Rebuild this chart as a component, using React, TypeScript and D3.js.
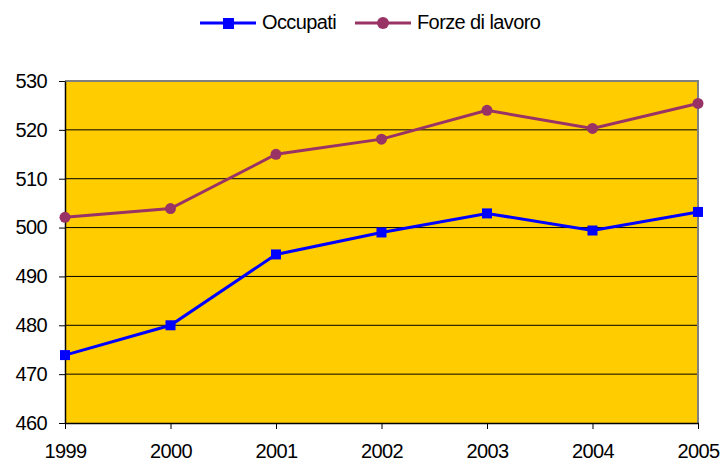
import React, { useRef, useEffect } from 'react';
import * as d3 from 'd3';

const years = ['1999', '2000', '2001', '2002', '2003', '2004', '2005'];
const occupati = [473.9, 480.0, 494.5, 499.0, 502.9, 499.4, 503.2];
const forzeLavoro = [502.1, 503.9, 515.0, 518.1, 524.0, 520.3, 525.4];
const yTicks = [460, 470, 480, 490, 500, 510, 520, 530];

const W = 720;
const H = 462;
const FONT = '"Liberation Sans", Arial, sans-serif';

const App: React.FC = () => {
    const ref = useRef<SVGSVGElement>(null);

    useEffect(() => {
        if (!ref.current) return;
        const svg = d3.select(ref.current);
        svg.selectAll('*').remove();

        const m = { left: 65, right: 698, top: 81, bottom: 423 };

        const x = d3.scalePoint<string>().domain(years).range([m.left, m.right]);
        const y = d3.scaleLinear().domain([460, 530]).range([m.bottom, m.top]);

        // plot background
        svg.append('rect')
            .attr('x', m.left).attr('y', m.top)
            .attr('width', m.right - m.left).attr('height', m.bottom - m.top)
            .attr('fill', '#FFCC00');

        // gridlines
        svg.append('g')
            .selectAll('line')
            .data(yTicks.filter(t => t > 460 && t < 530))
            .enter().append('line')
            .attr('x1', m.left).attr('x2', m.right)
            .attr('y1', d => y(d)).attr('y2', d => y(d))
            .attr('stroke', '#000').attr('stroke-width', 1);

        // grey frame top/right
        svg.append('path')
            .attr('d', `M${m.left},${m.top}H${m.right}V${m.bottom}`)
            .attr('fill', 'none').attr('stroke', '#808080').attr('stroke-width', 2);

        const styleText = (sel: any) => sel
            .attr('fill', '#000')
            .style('font-family', FONT)
            .style('font-size', '20px')
            .style('letter-spacing', '-0.6px');

        // y axis
        const yAxis = svg.append('g')
            .attr('transform', `translate(${m.left},0)`)
            .call(d3.axisLeft(y).tickValues(yTicks).tickSize(6).tickSizeOuter(0).tickFormat(d3.format('d')));
        yAxis.select('.domain').attr('stroke', '#000').attr('stroke-width', 1.5);
        yAxis.selectAll('.tick line').attr('stroke', '#000');
        styleText(yAxis.selectAll('.tick text').attr('x', -18));

        // x axis
        const xAxis = svg.append('g')
            .attr('transform', `translate(0,${m.bottom})`)
            .call(d3.axisBottom(x).tickSize(6).tickSizeOuter(0));
        xAxis.select('.domain').attr('stroke', '#000').attr('stroke-width', 1.5);
        xAxis.selectAll('.tick line').attr('stroke', '#000');
        styleText(xAxis.selectAll('.tick text').attr('y', 21));

        const line = d3.line<number>()
            .x((_, i) => x(years[i]) as number)
            .y(d => y(d));

        // Forze di lavoro
        svg.append('path')
            .datum(forzeLavoro)
            .attr('fill', 'none')
            .attr('stroke', '#993366')
            .attr('stroke-width', 3)
            .attr('d', line);
        svg.append('g')
            .selectAll('circle')
            .data(forzeLavoro)
            .enter().append('circle')
            .attr('cx', (_, i) => x(years[i]) as number)
            .attr('cy', d => y(d))
            .attr('r', 5.5)
            .attr('fill', '#993366');

        // Occupati
        svg.append('path')
            .datum(occupati)
            .attr('fill', 'none')
            .attr('stroke', '#0000FF')
            .attr('stroke-width', 3)
            .attr('d', line);
        svg.append('g')
            .selectAll('rect')
            .data(occupati)
            .enter().append('rect')
            .attr('x', (_, i) => (x(years[i]) as number) - 5)
            .attr('y', d => y(d) - 5)
            .attr('width', 10).attr('height', 10)
            .attr('fill', '#0000FF');

        // legend
        const legend = [
            { label: 'Occupati', color: '#0000FF', shape: 'square', x0: 200, tx: 262 },
            { label: 'Forze di lavoro', color: '#993366', shape: 'circle', x0: 355, tx: 417 }
        ];
        const lg = svg.append('g');
        legend.forEach(l => {
            lg.append('line')
                .attr('x1', l.x0).attr('x2', l.x0 + 56)
                .attr('y1', 23).attr('y2', 23)
                .attr('stroke', l.color).attr('stroke-width', 3);
            if (l.shape === 'square') {
                lg.append('rect').attr('x', l.x0 + 23).attr('y', 18).attr('width', 11).attr('height', 11).attr('fill', l.color);
            } else {
                lg.append('circle').attr('cx', l.x0 + 28).attr('cy', 23).attr('r', 6).attr('fill', l.color);
            }
            styleText(lg.append('text').attr('x', l.tx).attr('y', 29).text(l.label));
        });
    }, []);

    return (
        <svg ref={ref} width={W} height={H} viewBox={`0 0 ${W} ${H}`}
            style={{ position: 'absolute', left: 0, top: 0, background: '#fff' }} />
    );
};

export default App;
